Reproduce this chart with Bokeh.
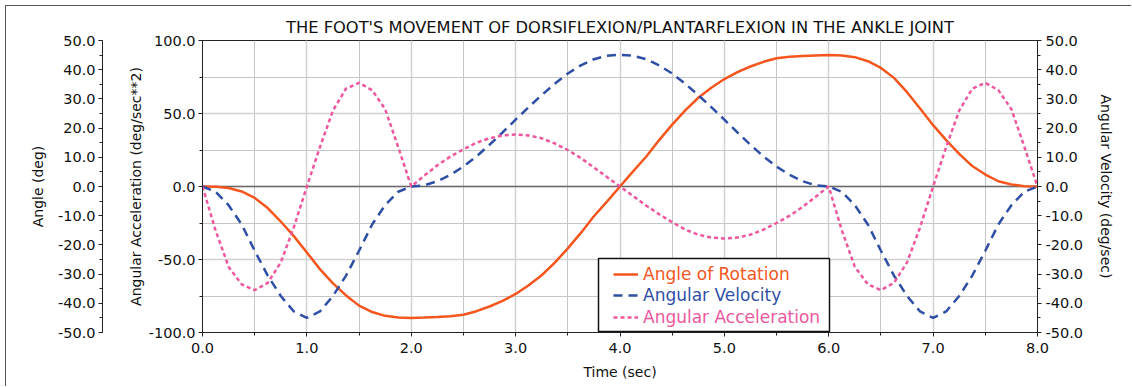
from bokeh.plotting import figure
from bokeh.models import (Range1d, LinearAxis, SingleIntervalTicker, FixedTicker,
                          PrintfTickFormatter, Span, BoxAnnotation, Legend, LegendItem)
from bokeh.embed import file_html
from bokeh.resources import INLINE

# ---------------- data ----------------
time_s = [0.0, 0.125, 0.25, 0.375, 0.5, 0.625, 0.75, 0.875, 1.0, 1.125, 1.25, 1.375,
          1.5, 1.625, 1.75, 1.875, 2.0, 2.125, 2.25, 2.375, 2.5, 2.625, 2.75, 2.875,
          3.0, 3.125, 3.25, 3.375, 3.5, 3.625, 3.75, 3.875, 4.0, 4.125, 4.25, 4.375,
          4.5, 4.625, 4.75, 4.875, 5.0, 5.125, 5.25, 5.375, 5.5, 5.625, 5.75, 5.875,
          6.0, 6.125, 6.25, 6.375, 6.5, 6.625, 6.75, 6.875, 7.0, 7.125, 7.25, 7.375,
          7.5, 7.625, 7.75, 7.875, 8.0]

angle_deg = [0.0, -0.1, -0.5, -1.7, -3.9, -7.4, -12.0, -17.0, -22.6, -28.3, -33.2, -37.3,
             -40.8, -43.0, -44.3, -44.9, -45.0,
             -44.9, -44.7, -44.4, -43.9, -42.7, -41.1, -39.2, -36.8, -33.8, -30.4, -26.1,
             -21.2, -15.9, -10.2, -5.2, 0.0, 5.2, 10.2, 15.9, 21.2, 26.1, 30.4, 33.8,
             36.8, 39.2, 41.1, 42.7, 43.9, 44.4, 44.7, 44.9, 45.0,
             44.9, 44.3, 42.9, 40.6, 37.2, 32.3, 26.7, 21.0, 15.9, 11.2, 7.0, 4.1,
             1.8, 0.7, 0.1, 0.0]

velocity_deg_s = [0.0, -1.8, -6.4, -13.0, -22.0, -30.5, -37.5, -42.8, -45.0, -42.8, -37.5,
                  -30.5, -22.0, -13.0, -6.4, -1.8, 0.0,
                  0.4, 1.8, 4.0, 6.8, 10.3, 14.3, 18.5, 22.9, 27.2, 31.3, 35.2, 38.7, 41.5,
                  43.6, 44.8, 45.1, 44.8, 43.6, 41.5, 38.7, 35.2, 31.3, 27.2, 22.9, 18.5,
                  14.3, 10.3, 6.8, 4.0, 1.8, 0.4, 0.0,
                  -1.8, -6.4, -13.0, -22.0, -30.5, -37.5, -42.8, -45.0, -42.8, -37.5,
                  -30.5, -22.0, -13.0, -6.4, -1.8, 0.0]

accel_deg_s2 = [0.0, -30.0, -55.0, -67.0, -71.0, -66.0, -52.0, -28.0, 0.0, 27.0, 52.0, 67.0,
                71.0, 66.0, 53.0, 27.0, 0.0,
                7.5, 14.5, 20.5, 25.5, 30.0, 33.0, 35.0, 35.6, 35.0, 33.0, 29.5, 25.0,
                19.5, 13.0, 6.5, 0.0, -6.5, -13.0, -19.0, -24.5, -29.5, -33.0, -35.0,
                -35.6, -35.0, -33.0, -29.5, -25.0, -20.0, -14.0, -7.0, 0.0,
                -30.0, -55.0, -67.0, -71.0, -66.0, -52.0, -28.0, 0.0, 27.0, 52.0, 67.0,
                71.0, 66.0, 53.0, 27.0, 0.0]

series_names = ["Angle of Rotation", "Angular Velocity", "Angular Acceleration"]
chart_title = "THE FOOT'S MOVEMENT OF DORSIFLEXION/PLANTARFLEXION IN THE ANKLE JOINT"
x_label = "Time (sec)"
angle_label = "Angle (deg)"
accel_label = "Angular Acceleration (deg/sec**2)"
vel_label = "Angular Velocity (deg/sec)"

# ---------------- styling ----------------
FONT = "DejaVu Sans"
C_ANGLE = "#F5561E"
C_VEL = "#2F4FA6"
C_ACC = "#EE579E"
TXT = "#111111"
TICK_FS = "14.5px"
LABEL_FS = "14px"

p = figure(width=1126, height=381, x_range=Range1d(0, 8), y_range=Range1d(-100, 100),
           output_backend="svg", toolbar_location=None, title=chart_title,
           min_border_left=196, min_border_right=95, min_border_top=34, min_border_bottom=55)
p.styles = {"margin-left": "5px", "margin-top": "5px",
            "border-left": "1px solid #555555", "border-top": "1px solid #555555"}
p.extra_y_ranges = {"angle": Range1d(-50, 50), "vel": Range1d(-50, 50)}
p.background_fill_color = "white"
p.border_fill_color = "white"
p.outline_line_color = "#222222"
p.outline_line_width = 1

p.title.align = "center"
p.title.text_font = FONT
p.title.text_font_size = "16.3px"
p.title.text_font_style = "normal"
p.title.text_color = TXT
p.title.standoff = 7


def style_axis(ax, label, title_standoff, label_standoff=3):
    ax.axis_label = label
    ax.axis_label_text_font = FONT
    ax.axis_label_text_font_size = LABEL_FS
    ax.axis_label_text_font_style = "normal"
    ax.axis_label_text_color = TXT
    ax.axis_label_standoff = title_standoff
    ax.major_label_text_font = FONT
    ax.major_label_text_font_size = TICK_FS
    ax.major_label_text_color = TXT
    ax.major_label_standoff = label_standoff
    ax.major_tick_out = 4
    ax.major_tick_in = 0
    ax.minor_tick_out = 3
    ax.minor_tick_in = 0
    ax.axis_line_color = "#222222"
    ax.major_tick_line_color = "#222222"
    ax.minor_tick_line_color = "#222222"
    ax.formatter = PrintfTickFormatter(format="%.1f")


# x axis
xax = p.xaxis[0]
xax.ticker = SingleIntervalTicker(interval=1, num_minor_ticks=2)
style_axis(xax, x_label, 8, label_standoff=6)

# inner left axis: acceleration
yax = p.yaxis[0]
yax.ticker = SingleIntervalTicker(interval=50, num_minor_ticks=2)
style_axis(yax, accel_label, 2)

# invisible spacer between the two left axes
spacer = LinearAxis(ticker=FixedTicker(ticks=[], minor_ticks=[]), axis_line_color=None,
                    major_tick_out=0, major_tick_in=0, minor_tick_out=0, minor_tick_in=0,
                    major_label_standoff=0, major_tick_line_color=None,
                    minor_tick_line_color=None,
                    axis_label="I", axis_label_text_alpha=0.0,
                    axis_label_text_font=FONT, axis_label_text_font_size="14px",
                    axis_label_standoff=3)
p.add_layout(spacer, "left")

# outer left axis: angle
angle_ax = LinearAxis(y_range_name="angle",
                      ticker=SingleIntervalTicker(interval=10, num_minor_ticks=2))
style_axis(angle_ax, angle_label, 9)
p.add_layout(angle_ax, "left")

# right axis: velocity
vel_ax = LinearAxis(y_range_name="vel",
                    ticker=SingleIntervalTicker(interval=10, num_minor_ticks=2))
style_axis(vel_ax, vel_label, 12, label_standoff=4)
p.add_layout(vel_ax, "right")

# grid
for g in (p.xgrid[0], p.ygrid[0]):
    g.grid_line_color = "#D2D2D2"
    g.grid_line_width = 1.5
    g.minor_grid_line_color = "#C6C6C6"
    g.minor_grid_line_width = 1

zero = Span(location=0, dimension="width", line_color="#6A6A6A", line_width=1.5,
            level="underlay")
p.add_layout(zero)

# curves
r_ang = p.line(time_s, angle_deg, y_range_name="angle", line_color=C_ANGLE, line_width=2.5)
r_vel = p.line(time_s, velocity_deg_s, y_range_name="vel", line_color=C_VEL,
               line_width=2.5, line_dash="9 6")
r_acc = p.line(time_s, accel_deg_s2, line_color=C_ACC, line_width=2.5, line_dash="4 3")

# legend box
box = BoxAnnotation(left=396, right=627, bottom=1, top=74,
                    left_units="screen", right_units="screen",
                    bottom_units="screen", top_units="screen",
                    fill_color="white", fill_alpha=1.0,
                    line_color="#111111", line_width=1.5, line_alpha=1.0)
p.add_layout(box)

for name, rend, col, ybot in zip(series_names, [r_ang, r_vel, r_acc],
                                 [C_ANGLE, C_VEL, C_ACC], [48, 27, 5]):
    leg = Legend(items=[LegendItem(label=name, renderers=[rend])],
                 location=(411, ybot), padding=0, margin=0,
                 border_line_alpha=0, background_fill_alpha=0,
                 glyph_width=25, glyph_height=20, label_height=20, label_standoff=5,
                 label_text_font=FONT, label_text_font_size="17px",
                 label_text_color=col)
    p.add_layout(leg)

open("out.html", "w").write(file_html(p, INLINE))
